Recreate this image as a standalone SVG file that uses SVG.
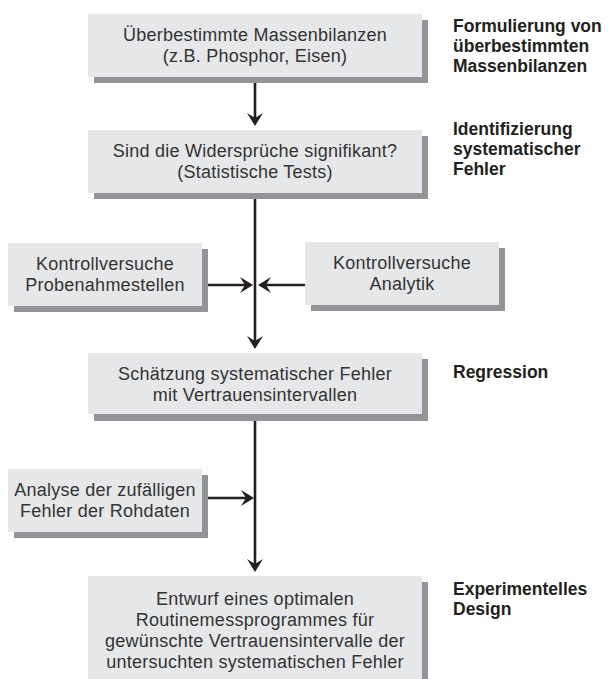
<svg xmlns="http://www.w3.org/2000/svg" width="613" height="679" viewBox="0 0 613 679">
<style>
.box{fill:#e6e7e8}
.sh{fill:#929497}
.t{font-family:"Liberation Sans",Arial,sans-serif;font-size:18px;fill:#333;text-anchor:middle;letter-spacing:0.25px}
.lb{font-family:"Liberation Sans",Arial,sans-serif;font-size:17.5px;font-weight:bold;fill:#231f20}
.ln{stroke:#231f20;stroke-width:2.6;fill:none}
.ah{fill:#231f20}
</style>
<defs>
<path id="adown" d="M0,0 L-8,-13 L0,-8 L8,-13 Z"/>
</defs>
<rect width="613" height="679" fill="#fff"/>
<g id="connectors">
<line class="ln" x1="255" y1="77" x2="255" y2="122"/>
<use href="#adown" class="ah" transform="translate(255,126)"/>
<line class="ln" x1="255" y1="193" x2="255" y2="345"/>
<use href="#adown" class="ah" transform="translate(255,349)"/>
<line class="ln" x1="255" y1="414" x2="255" y2="568"/>
<use href="#adown" class="ah" transform="translate(255,572)"/>
<line class="ln" x1="202" y1="285" x2="250" y2="285"/>
<use href="#adown" class="ah" transform="translate(253,285) rotate(-90)"/>
<line class="ln" x1="305" y1="285" x2="261" y2="285"/>
<use href="#adown" class="ah" transform="translate(258,285) rotate(90)"/>
<line class="ln" x1="202" y1="498" x2="250" y2="498"/>
<use href="#adown" class="ah" transform="translate(254,498) rotate(-90)"/>
</g>
<g id="n1">
<rect class="sh" x="94" y="20" width="334" height="63"/>
<rect class="box" x="88" y="14" width="334" height="63"/>
<text class="t" x="255" y="41">Überbestimmte Massenbilanzen</text>
<text class="t" x="255" y="62">(z.B. Phosphor, Eisen)</text>
</g>
<g id="n2">
<rect class="sh" x="94" y="136" width="334" height="63"/>
<rect class="box" x="88" y="130" width="334" height="63"/>
<text class="t" x="255" y="157">Sind die Widersprüche signifikant?</text>
<text class="t" x="255" y="178">(Statistische Tests)</text>
</g>
<g id="n3">
<rect class="sh" x="14" y="249" width="194" height="63"/>
<rect class="box" x="8" y="243" width="194" height="63"/>
<text class="t" x="105" y="270">Kontrollversuche</text>
<text class="t" x="105" y="291">Probenahmestellen</text>
</g>
<g id="n4">
<rect class="sh" x="311" y="248" width="194" height="63"/>
<rect class="box" x="305" y="242" width="194" height="63"/>
<text class="t" x="402" y="269">Kontrollversuche</text>
<text class="t" x="402" y="290">Analytik</text>
</g>
<g id="n5">
<rect class="sh" x="94" y="359" width="334" height="62"/>
<rect class="box" x="88" y="353" width="334" height="61"/>
<text class="t" x="255" y="380">Schätzung systematischer Fehler</text>
<text class="t" x="255" y="401">mit Vertrauensintervallen</text>
</g>
<g id="n6">
<rect class="sh" x="14" y="475" width="194" height="63"/>
<rect class="box" x="8" y="469" width="194" height="63"/>
<text class="t" x="105" y="496">Analyse der zufälligen</text>
<text class="t" x="105" y="517">Fehler der Rohdaten</text>
</g>
<g id="n7">
<rect class="sh" x="94" y="582" width="334" height="110"/>
<rect class="box" x="88" y="576" width="334" height="110"/>
<text class="t" x="255" y="605">Entwurf eines optimalen</text>
<text class="t" x="255" y="626">Routinemessprogrammes für</text>
<text class="t" x="255" y="647">gewünschte Vertrauensintervalle der</text>
<text class="t" x="255" y="668">untersuchten systematischen Fehler</text>
</g>
<g id="labels">
<text class="lb" x="453" y="32">Formulierung von</text>
<text class="lb" x="453" y="52">überbestimmten</text>
<text class="lb" x="453" y="72">Massenbilanzen</text>
<text class="lb" x="453" y="135">Identifizierung</text>
<text class="lb" x="453" y="155">systematischer</text>
<text class="lb" x="453" y="175">Fehler</text>
<text class="lb" x="453" y="378">Regression</text>
<text class="lb" x="453" y="595">Experimentelles</text>
<text class="lb" x="453" y="615">Design</text>
</g>
</svg>
